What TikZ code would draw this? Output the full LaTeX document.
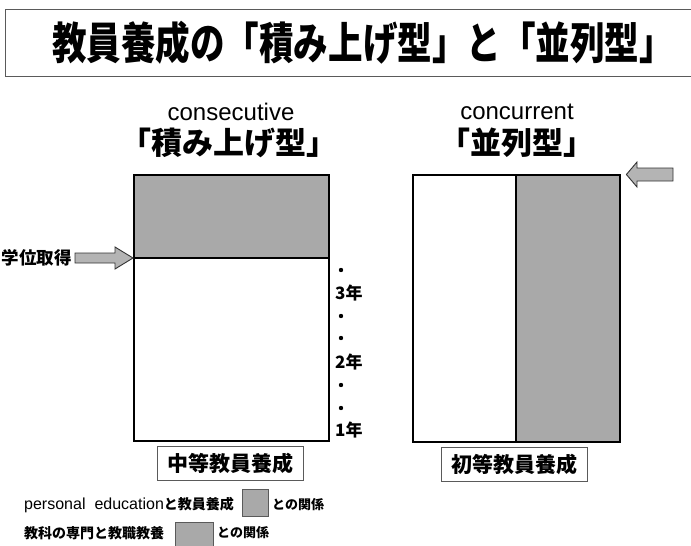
\documentclass[tikz,border=0pt]{standalone}
\usepackage{fontspec}
\usepackage{graphicx}
\setmainfont{Liberation Sans}
\newfontfamily\jp{Noto Sans CJK JP}
\definecolor{boxgray}{HTML}{A9A9A9}
\definecolor{arrowgray}{HTML}{B4B4B4}
\definecolor{framegray}{HTML}{5A5A5A}
\begin{document}
\begin{tikzpicture}[x=1pt,y=-1pt,
  mainbox/.style={draw=black, line width=2.4pt},
  divline/.style={draw=black, line width=1.4pt},
  bigarrow/.style={fill=arrowgray, draw=black!80, line width=0.9pt, line join=miter},
  labelbox/.style={draw=framegray, line width=0.8pt, minimum width=146pt, minimum height=34pt, inner sep=0pt,
    font=\jp\bfseries\fontsize{21}{24}\selectfont},
  year/.style={anchor=west, inner sep=0pt, font=\jp\bfseries\fontsize{17}{19}\selectfont},
  head/.style={inner sep=0pt, font=\fontsize{24}{26}\selectfont},
  jhead/.style={inner sep=0pt, font=\jp\bfseries\fontsize{31}{34}\selectfont},
  swatch/.style={draw=framegray, line width=0.8pt, fill=boxgray, inner sep=0pt},
  legtext/.style={anchor=west, inner sep=0pt}
]
\useasboundingbox (0,0) rectangle (691,546);

% title
\node[draw=framegray, line width=1.4pt, minimum width=690pt, minimum height=67pt, anchor=north west, inner sep=0pt] (titlebox) at (5,9) {};
\node[anchor=west, inner sep=0pt] (title) at (52,43)
  {\jp\bfseries\fontsize{44}{48}\selectfont\scalebox{0.785}[1]{教員養成の「積み上げ型」と「並列型」}};

% left column
\node[head] (cons) at (231,112) {consecutive};
\node[jhead] (consj) at (229,143) {「積み上げ型」};
\fill[boxgray] (133,174) rectangle (328,258);
\node[mainbox, minimum width=195pt, minimum height=266pt, anchor=north west, inner sep=0pt] (lbox) at (133,174) {};
\coordinate (ldiv) at (133,258);
\draw[divline] (ldiv) -- (328,258);

% 学位取得 arrow
\node[anchor=east, inner sep=0pt, font=\jp\bfseries\fontsize{17.5}{20}\selectfont] (gakui) at (72,258) {学位取得};
\draw[bigarrow] (75,253) -- (115,253) -- (115,247) -- (ldiv) -- (115,269) -- (115,263) -- (75,263) -- cycle;

% years
\foreach \yy in {270,316,338,385,408} \fill (341,\yy) circle (2.2);
\node[year] (y3) at (335,293) {3年};
\node[year] (y2) at (335,362) {2年};
\node[year] (y1) at (335,430) {1年};

\node[labelbox] (chuto) at (230,463.5) {中等教員養成};

% right column
\node[head] (conc) at (517,112) {concurrent};
\node[jhead] (concj) at (517,143) {「並列型」};
\fill[boxgray] (516,174) rectangle (619,441);
\node[mainbox, minimum width=207pt, minimum height=267pt, anchor=north west, inner sep=0pt] (rbox) at (412,174) {};
\draw[divline] (516,174) -- (516,441);
\draw[bigarrow] (rbox.north east) ++(5,0.5) -- (637,162) -- (637,168) -- (673,168) -- (673,181) -- (637,181) -- (637,187) -- cycle;

\node[labelbox] (shoto) at (514.5,464) {初等教員養成};

% legend
\node[legtext] (leg1) at (24,505) {\fontsize{16}{17}\selectfont personal\hspace{9pt}education\jp\bfseries\fontsize{14}{15}\selectfont と教員養成};
\node[swatch, minimum width=26pt, minimum height=27pt, anchor=north west] (sw1) at (242,489) {};
\node[legtext, font=\jp\bfseries\fontsize{13}{14}\selectfont] (leg1b) at (272,505) {との関係};

\node[legtext, font=\jp\bfseries\fontsize{14}{15}\selectfont] (leg2) at (24,533) {教科の専門と教職教養};
\node[swatch, minimum width=38pt, minimum height=26pt, anchor=north west] (sw2) at (175,522) {};
\node[legtext, font=\jp\bfseries\fontsize{13}{14}\selectfont] (leg2b) at (217,533) {との関係};
\end{tikzpicture}
\end{document}
